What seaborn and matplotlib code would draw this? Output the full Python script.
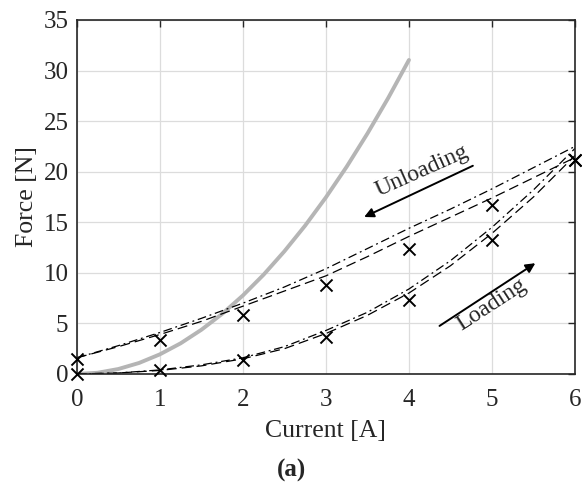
import numpy as np
import pandas as pd
import seaborn as sns
import matplotlib.pyplot as plt

# measured points
current = [0, 1, 2, 3, 4, 5, 6]
force_loading = [0.0, 0.4, 1.4, 3.7, 7.3, 13.2, 21.2]
force_unloading = [1.5, 3.4, 5.8, 8.8, 12.4, 16.7, 21.2]

# fitted curves
fit_x = [0, 0.5, 1, 1.5, 2, 2.5, 3, 3.5, 4, 4.5, 5, 5.5, 6]
unload_dashdot = [1.6, 2.8, 4.1, 5.5, 7.0, 8.6, 10.4, 12.4, 14.4, 16.3, 18.3, 20.4, 22.5]
unload_dashed = [1.6, 2.7, 3.9, 5.2, 6.7, 8.2, 9.7, 11.6, 13.6, 15.5, 17.4, 19.4, 21.4]
load_dashdot = [0.0, 0.1, 0.4, 0.9, 1.6, 2.7, 4.3, 6.1, 8.4, 11.2, 14.5, 18.2, 22.3]
load_dashed = [0.0, 0.1, 0.35, 0.8, 1.5, 2.5, 4.0, 5.8, 8.0, 10.7, 13.9, 17.5, 21.6]

# grey model curve
model_x = [0, 0.25, 0.5, 0.75, 1, 1.25, 1.5, 1.75, 2, 2.25, 2.5, 2.75, 3,
           3.25, 3.5, 3.75, 4]
model_f = [0.0, 0.12, 0.49, 1.09, 1.94, 3.03, 4.37, 5.94, 7.76, 9.82, 12.13,
           14.67, 17.46, 20.49, 23.77, 27.28, 31.04]

sns.set_style("white")
plt.rcParams['font.family'] = ['Liberation Serif', 'DejaVu Serif']

fig = plt.figure(figsize=(5.82, 4.86), dpi=100)
ax = fig.add_axes([0.132, 0.2305, 0.856, 0.7285])

ax.grid(True, color='#dcdcdc', linewidth=0.9)
ax.set_axisbelow(True)

sns.lineplot(x=model_x, y=model_f, ax=ax, color='#b5b5b5', linewidth=2.8)
sns.lineplot(x=fit_x, y=unload_dashdot, ax=ax, color='black', linewidth=0.9,
             linestyle=(0, (7, 3, 1.5, 3)))
sns.lineplot(x=fit_x, y=unload_dashed, ax=ax, color='black', linewidth=0.9,
             linestyle=(0, (8, 4)))
sns.lineplot(x=fit_x, y=load_dashdot, ax=ax, color='black', linewidth=0.9,
             linestyle=(0, (7, 3, 1.5, 3)))
sns.lineplot(x=fit_x, y=load_dashed, ax=ax, color='black', linewidth=0.9,
             linestyle=(0, (8, 4)))

for f in (force_loading, force_unloading):
    sns.scatterplot(x=current, y=f, ax=ax, marker='x', color='black', s=75,
                    linewidth=1.4, clip_on=False, zorder=5)

ax.annotate('', xy=(3.43, 15.4), xytext=(4.8, 20.7),
            arrowprops=dict(arrowstyle='-|>', color='black', lw=1.4,
                            mutation_scale=14))
ax.text(4.15, 20.1, 'Unloading', rotation=24, ha='center', va='center',
        fontsize=17)
ax.annotate('', xy=(5.55, 11.1), xytext=(4.34, 4.6),
            arrowprops=dict(arrowstyle='-|>', color='black', lw=1.4,
                            mutation_scale=14))
ax.text(5.0, 6.8, 'Loading', rotation=33, ha='center', va='center',
        fontsize=17)

ax.set_xlim(0, 6)
ax.set_ylim(0, 35)
ax.set_xticks(range(0, 7))
ax.set_yticks(range(0, 36, 5))
ax.tick_params(direction='in', length=5, width=1, top=True, right=True,
               labelsize=18, colors='#262626', pad=6)
ax.tick_params(axis='x', pad=11)
for s in ax.spines.values():
    s.set_color('#262626')
    s.set_linewidth(1.2)

ax.set_xlabel('Current [A]', fontsize=18.5, color='#262626', labelpad=6)
ax.set_ylabel('Force [N]', fontsize=18.5, color='#262626', labelpad=4)

fig.text(0.5, 0.033, '(a)', ha='center', va='center', fontsize=18,
         fontweight='bold')

fig.savefig('out.png', dpi=100)
